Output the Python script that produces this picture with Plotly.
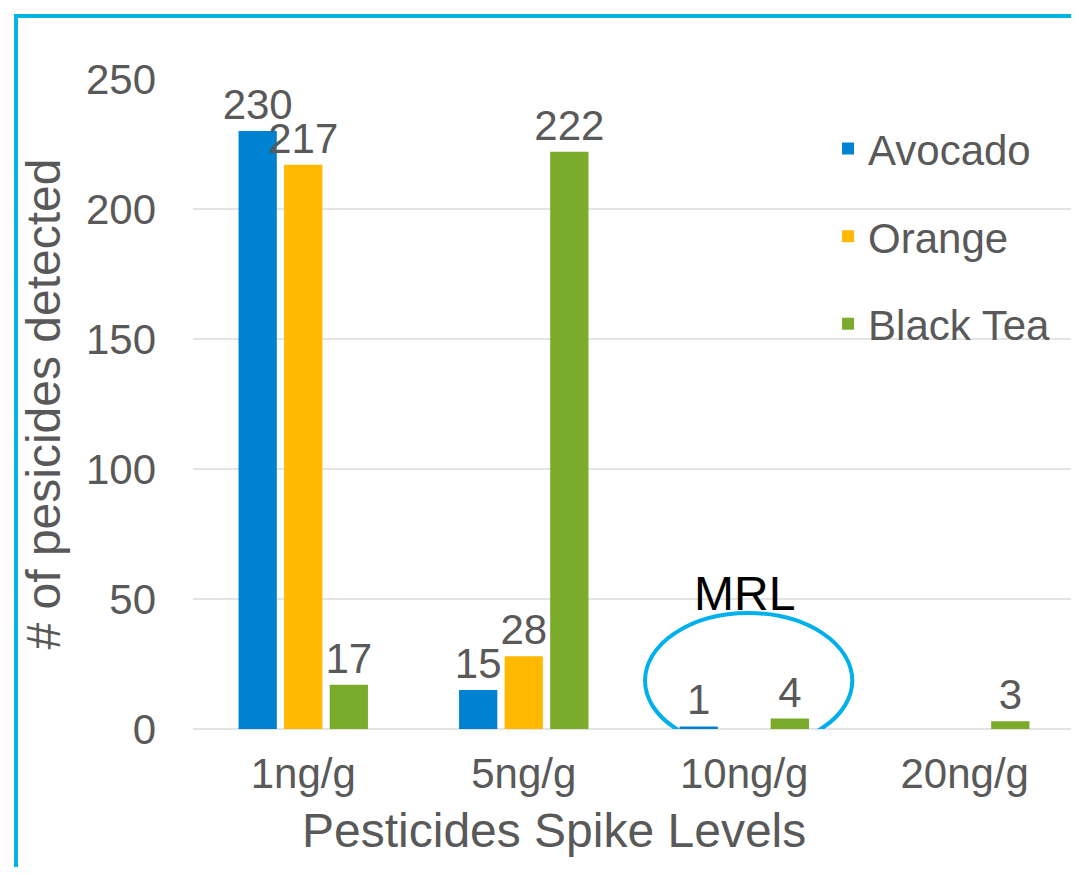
import plotly.graph_objects as go

levels = ["1ng/g", "5ng/g", "10ng/g", "20ng/g"]
avocado = [230, 15, 1, None]
orange = [217, 28, None, None]
black_tea = [17, 222, 4, 3]

grey = "#595959"
font = "Liberation Sans, Arial, sans-serif"

fig = go.Figure()
for name, vals, col in [("Avocado", avocado, "#0082D2"),
                        ("Orange", orange, "#FFB900"),
                        ("Black Tea", black_tea, "#7AAB2A")]:
    fig.add_trace(go.Bar(x=levels, y=vals, name=name, legendgroup=name,
                         marker=dict(color=col, line=dict(width=0)),
                         text=[v if v is not None else "" for v in vals],
                         textposition="outside", constraintext="none",
                         cliponaxis=False,
                         textfont=dict(size=42, color=grey, family=font)))

# MRL circle around the 10ng/g group
fig.add_shape(type="circle", xref="x", yref="y",
              x0=1.55, x1=2.49, y0=-7.3, y1=44.6,
              line=dict(color="#00B0EC", width=4))
fig.add_annotation(x=2, y=52, xref="x", yref="y", text="MRL", showarrow=False,
                   yanchor="middle",
                   font=dict(size=48, color="black", family=font))

# x axis title (centred like the original, not on the plot)
fig.add_annotation(x=(554 - 193) / 882, y=(729 - 830) / 650, xref="paper", yref="paper",
                   text="Pesticides Spike Levels", showarrow=False,
                   xanchor="center", yanchor="middle",
                   font=dict(size=48, color=grey, family=font))

# outer frame
fig.add_shape(type="rect", xref="paper", yref="paper",
              x0=(16 - 193) / 882, x1=1.05, y0=-0.3, y1=(729 - 16) / 650,
              line=dict(color="#00B4E6", width=4))

fig.update_layout(
    width=1067, height=859,
    margin=dict(l=185, r=0, t=71, b=138),
    paper_bgcolor="white", plot_bgcolor="white",
    barmode="group", bargap=0.38, bargroupgap=0.16,
    font=dict(family=font, size=42, color=grey),
    showlegend=True,
    legend=dict(x=0.72, y=0.945, xanchor="left", yanchor="top",
                bgcolor="rgba(0,0,0,0)", tracegroupgap=30,
                font=dict(size=42, color=grey, family=font)),
    xaxis=dict(showgrid=False, showline=False, zeroline=False,
               ticklabelstandoff=16, tickfont=dict(size=42, color=grey)),
    yaxis=dict(range=[0, 250], dtick=50, showgrid=True, gridcolor="#E4E4E4",
               gridwidth=2, zeroline=True, zerolinecolor="#E4E4E4", zerolinewidth=2,
               showline=False, ticklabelstandoff=36,
               tickfont=dict(size=42, color=grey),
               title=dict(text="# of pesicides detected", standoff=10,
                          font=dict(size=48, color=grey, family=font))),
)

fig.write_html("out.html")
